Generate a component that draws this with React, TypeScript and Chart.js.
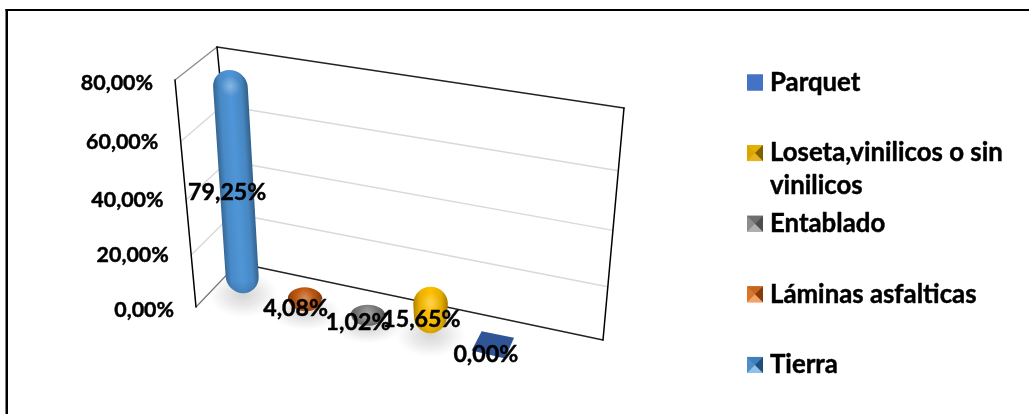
import { useEffect, useRef } from "react";
import { Chart, registerables } from "chart.js";

Chart.register(...registerables);

// Floor coverings, in the order the columns stand along the floor.
const categories = ["Tierra", "Láminas asfalticas", "Entablado", "Loseta,vinilicos o sin vinilicos", "Parquet"];
const shares = [79.25, 4.08, 1.02, 15.65, 0];
const columnColors = ["#4f96d8", "#c55a11", "#7f7f7f", "#ffc000", "#2f5597"];
const axisTicks = [0, 20, 40, 60, 80];

// Legend reads top to bottom, opposite to the columns.
const legendNames = [["Parquet"], ["Loseta,vinilicos o sin", "vinilicos"], ["Entablado"], ["Láminas asfalticas"], ["Tierra"]];
const legendSwatches = [
  { mid: "#4472c4", top: "#4472c4", light: "#4472c4", dark: "#4472c4" },
  { mid: "#d9a600", top: "#e6b000", light: "#e6b422", dark: "#7f6000" },
  { mid: "#8c8c8c", top: "#6e6e6e", light: "#b0b0b0", dark: "#4d4d4d" },
  { mid: "#d9752c", top: "#c8651f", light: "#f4a366", dark: "#843c0c" },
  { mid: "#4f8ec9", top: "#3f7fbc", light: "#8fc1ea", dark: "#1f4e79" },
];

const FONT = "Lato, Carlito, sans-serif";
const WIDTH = 1029;
const HEIGHT = 414;

// Box corners of the perspective plot.
const BACK_TL = { x: 217, y: 47 };
const BACK_TR = { x: 624, y: 108 };
const BACK_BL = { x: 238, y: 263 };
const BACK_BR = { x: 603, y: 340 };
const FRONT_TL = { x: 175, y: 80 };
const FRONT_BL = { x: 196, y: 307 };

// Where each data label sits relative to the foot of its column.
const labelOffsets = [
  { dx: -16, dy: -101 },
  { dx: -10, dy: 2 },
  { dx: -10, dy: 3 },
  { dx: -9, dy: -14 },
  { dx: -7, dy: 8 },
];

type Pt = { x: number; y: number };
const lerp = (a: Pt, b: Pt, t: number): Pt => ({ x: a.x + (b.x - a.x) * t, y: a.y + (b.y - a.y) * t });
// Heights compress slightly toward the floor under the viewing angle.
const perspective = (t: number) => t * (0.89 + 0.11 * t);
const floorY = (x: number) => 293.3 + (x - 243) * 0.213;
const leanAt = (x: number) => -(x - 415) * 0.00036;
const formatShare = (v: number) => v.toFixed(2).replace(".", ",") + "%";

function line(ctx: CanvasRenderingContext2D, a: Pt, b: Pt, color: string, width: number) {
  ctx.strokeStyle = color;
  ctx.lineWidth = width;
  ctx.beginPath();
  ctx.moveTo(a.x, a.y);
  ctx.lineTo(b.x, b.y);
  ctx.stroke();
}

// Bold text with a hairline outline, to give the heavier stem weight.
function heavyText(ctx: CanvasRenderingContext2D, text: string, x: number, y: number) {
  ctx.strokeStyle = "#000000";
  ctx.lineWidth = 0.45;
  ctx.lineJoin = "round";
  ctx.strokeText(text, x, y);
  ctx.fillText(text, x, y);
}

const wallsAndAxis = {
  id: "wallsAndAxis",
  beforeDatasetsDraw(chart: any) {
    const { ctx } = chart;
    const y = chart.scales.y;
    const zero = y.getPixelForValue(y.min);
    const span = zero - y.getPixelForValue(y.max);
    ctx.save();
    ctx.fillStyle = "#ffffff";
    ctx.fillRect(0, 0, WIDTH, HEIGHT);

    // Outer frame: only the top and left rules.
    ctx.fillStyle = "#000000";
    ctx.fillRect(5.5, 9, WIDTH, 2);
    ctx.fillRect(5.5, 9, 2.5, HEIGHT);

    ctx.lineCap = "round";
    y.ticks.forEach((tick: any) => {
      const t = (zero - y.getPixelForValue(tick.value)) / span;
      if (t <= 0 || t >= 1) return;
      const k = perspective(t);
      const front = lerp(FRONT_BL, FRONT_TL, k);
      const corner = lerp(BACK_BL, BACK_TL, k);
      const right = lerp(BACK_BR, BACK_TR, k);
      line(ctx, front, corner, "#d9d9d9", 1.4);
      line(ctx, corner, right, "#d9d9d9", 1.4);
    });

    line(ctx, FRONT_TL, BACK_TL, "#8a8a8a", 1.3);
    line(ctx, FRONT_BL, BACK_BL, "#707070", 1.1);
    line(ctx, BACK_TL, BACK_TR, "#222222", 1.4);
    line(ctx, BACK_BL, BACK_BR, "#222222", 1.4);
    line(ctx, BACK_TR, BACK_BR, "#000000", 1.5);
    line(ctx, BACK_TL, BACK_BL, "#000000", 1.5);
    line(ctx, FRONT_TL, FRONT_BL, "#000000", 1.5);

    // Axis labels step sideways with the leaning front edge.
    ctx.fillStyle = "#000000";
    ctx.font = `bold 21.4px ${FONT}`;
    ctx.textAlign = "right";
    ctx.textBaseline = "middle";
    y.ticks.forEach((tick: any) => {
      const t = (zero - y.getPixelForValue(tick.value)) / span;
      const k = t * (0.945 + 0.055 * t);
      heavyText(ctx, formatShare(tick.value), 174 - 21 * t, zero - span * k);
    });
    ctx.restore();
  },
};

function softShadow(ctx: CanvasRenderingContext2D, cx: number, cy: number, rx: number, ry: number, alpha: number) {
  ctx.save();
  ctx.translate(cx, cy);
  ctx.scale(rx, ry);
  const g = ctx.createRadialGradient(0, 0, 0, 0, 0, 1);
  g.addColorStop(0, `rgba(130,130,130,${alpha})`);
  g.addColorStop(0.5, `rgba(150,150,150,${alpha * 0.62})`);
  g.addColorStop(1, "rgba(170,170,170,0)");
  ctx.fillStyle = g;
  ctx.beginPath();
  ctx.arc(0, 0, 1, 0, Math.PI * 2);
  ctx.fill();
  ctx.restore();
}

function shade(hex: string, f: number) {
  const n = parseInt(hex.slice(1), 16);
  const m = (c: number) => Math.round(f < 1 ? c * f : c + (255 - c) * (f - 1));
  return `rgb(${m((n >> 16) & 255)},${m((n >> 8) & 255)},${m(n & 255)})`;
}

function capsule(ctx: CanvasRenderingContext2D, cx: number, foot: number, tall: number, rx: number, ry: number, color: string) {
  ctx.save();
  ctx.transform(1, 0, leanAt(cx), 1, cx, foot);
  ctx.beginPath();
  ctx.ellipse(0, -ry, rx, ry, 0, 0, Math.PI);
  ctx.ellipse(0, -tall + ry, rx + 0.8, ry, 0, Math.PI, Math.PI * 2);
  ctx.closePath();
  ctx.clip();

  const across = ctx.createLinearGradient(-rx, 0, rx, 0);
  across.addColorStop(0, shade(color, 0.7));
  across.addColorStop(0.18, shade(color, 0.92));
  across.addColorStop(0.5, shade(color, 1));
  across.addColorStop(0.82, shade(color, 0.9));
  across.addColorStop(1, shade(color, 0.66));
  ctx.fillStyle = across;
  ctx.fillRect(-rx - 2, -tall - 2, 2 * rx + 4, tall + 4);

  // Shine on the dome and a darker rim at the foot.
  const dome = ctx.createRadialGradient(0, -tall + ry * 0.95, 0, 0, -tall + ry * 0.95, rx * 0.62);
  dome.addColorStop(0, "rgba(255,255,255,0.32)");
  dome.addColorStop(1, "rgba(255,255,255,0)");
  ctx.fillStyle = dome;
  ctx.fillRect(-rx - 2, -tall - 2, 2 * rx + 4, tall + 4);
  const rim = ctx.createLinearGradient(0, -ry * 0.7, 0, 0);
  rim.addColorStop(0, "rgba(0,0,0,0)");
  rim.addColorStop(1, "rgba(0,0,0,0.14)");
  ctx.fillStyle = rim;
  ctx.fillRect(-rx - 2, -ry * 0.7, 2 * rx + 4, ry + 2);
  ctx.restore();
}

const floorColumns = {
  id: "floorColumns",
  beforeDatasetDraw(chart: any, args: any) {
    const { ctx } = chart;
    const values = chart.data.datasets[args.index].data;
    const colors = chart.data.datasets[args.index].backgroundColor;
    const meta = chart.getDatasetMeta(args.index);
    meta.data.forEach((bar: any, i: number) => {
      const h = bar.base - bar.y;
      const foot = floorY(bar.x);
      if (values[i] === 0) return;
      const ry = Math.min(17, 10 + h * 0.17);
      const bottom = foot + (17 - ry) * 0.9;
      softShadow(ctx, bar.x, bottom + 1, bar.width * 1.05, ry + 6, 0.34);
    });
    meta.data.forEach((bar: any, i: number) => {
      const h = bar.base - bar.y;
      const foot = floorY(bar.x);
      if (values[i] === 0) {
        // A zero share is only a flat square lying on the floor.
        const w = bar.width / 2;
        ctx.fillStyle = colors[i];
        ctx.beginPath();
        ctx.moveTo(bar.x - w + 5.4, foot - 15.3);
        ctx.lineTo(bar.x + w + 4.7, foot - 8.7);
        ctx.lineTo(bar.x + w - 4.3, foot + 12);
        ctx.lineTo(bar.x - w - 4.6, foot + 4);
        ctx.closePath();
        ctx.fill();
        return;
      }
      const ry = Math.min(17, 10 + h * 0.17);
      const bottom = foot + (17 - ry) * 0.9;
      const tall = Math.max(2 * ry, h * 0.98 + 3);
      capsule(ctx, bar.x, bottom, tall, bar.width / 2, ry, colors[i]);
    });
    return false;
  },
  afterDatasetsDraw(chart: any) {
    const { ctx } = chart;
    const meta = chart.getDatasetMeta(0);
    ctx.save();
    ctx.fillStyle = "#000000";
    ctx.font = `bold 23.2px ${FONT}`;
    ctx.textAlign = "center";
    ctx.textBaseline = "middle";
    meta.data.forEach((bar: any, i: number) => {
      const off = labelOffsets[i];
      heavyText(ctx, formatShare(chart.data.datasets[0].data[i]), bar.x + off.dx, floorY(bar.x) + off.dy);
    });
    ctx.restore();
  },
};

const sideLegend = {
  id: "sideLegend",
  afterDraw(chart: any) {
    const { ctx } = chart;
    const s = 16;
    const left = 747;
    ctx.save();
    ctx.font = `bold 25.8px ${FONT}`;
    ctx.textAlign = "left";
    ctx.textBaseline = "middle";
    legendNames.forEach((lines, i) => {
      const y = 82.5 + i * 70.6;
      const sw = legendSwatches[i];
      const x0 = left;
      const y0 = y - s / 2;
      const mx = x0 + s / 2;
      const my = y;
      ctx.fillStyle = sw.mid;
      ctx.fillRect(x0, y0, s, s);
      // Bevelled square: triangular faces meeting in the middle.
      const faces: [string, number, number, number, number][] = [
        [sw.top, x0, y0, x0 + s, y0],
        [sw.light, x0, y0 + s, x0 + s, y0 + s],
        [sw.dark, x0 + s, y0, x0 + s, y0 + s],
      ];
      faces.forEach(([c, ax, ay, bx, by]) => {
        ctx.fillStyle = c;
        ctx.beginPath();
        ctx.moveTo(ax, ay);
        ctx.lineTo(bx, by);
        ctx.lineTo(mx, my);
        ctx.closePath();
        ctx.fill();
      });
      ctx.fillStyle = "#000000";
      lines.forEach((text, j) => heavyText(ctx, text, 770, y + j * 33));
    });
    ctx.restore();
  },
};

export default function App() {
  const canvasRef = useRef<HTMLCanvasElement | null>(null);

  useEffect(() => {
    document.body.style.margin = "0";
    const chart = new Chart(canvasRef.current!, {
      type: "bar",
      data: {
        labels: categories,
        datasets: [
          {
            label: "Piso",
            data: shares,
            backgroundColor: columnColors,
            barPercentage: 0.53,
            categoryPercentage: 1,
          },
        ],
      },
      options: {
        responsive: false,
        animation: false,
        layout: { padding: { left: 212, right: WIDTH - 524, top: 83, bottom: HEIGHT - 310 } },
        plugins: { legend: { display: false }, tooltip: { enabled: false }, title: { display: false } },
        scales: {
          x: { display: false, offset: true },
          y: {
            display: false,
            min: 0,
            max: 80,
            afterBuildTicks(scale: any) {
              scale.ticks = axisTicks.map((value) => ({ value }));
            },
          },
        },
      } as any,
      plugins: [wallsAndAxis, floorColumns, sideLegend],
    } as any);
    return () => chart.destroy();
  }, []);

  return (
    <div style={{ position: "absolute", left: 0, top: 0, width: WIDTH, height: HEIGHT, background: "#fff" }}>
      <canvas ref={canvasRef} width={WIDTH} height={HEIGHT} style={{ display: "block" }} />
    </div>
  );
}
